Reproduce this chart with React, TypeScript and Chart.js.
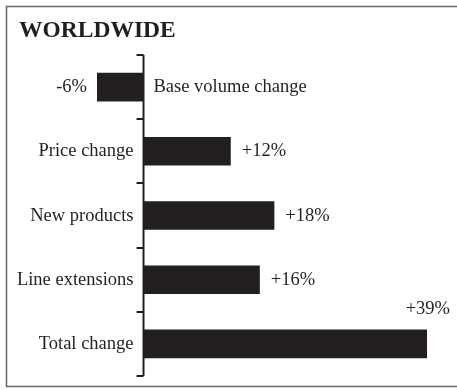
import React, { useEffect, useRef } from "react";
import { Chart, registerables } from "chart.js";

Chart.register(...registerables);

const title = "WORLDWIDE";
const categories = [
  "Base volume change",
  "Price change",
  "New products",
  "Line extensions",
  "Total change",
];
const values = [-6.4, 12, 18, 16, 39];
const valueLabels = ["-6%", "+12%", "+18%", "+16%", "+39%"];

const INK = "#231f20";
const FONT = "'Liberation Serif', 'Times New Roman', serif";

const decorPlugin = {
  id: "decor",
  afterDraw(chart: any) {
    const ctx = chart.ctx as CanvasRenderingContext2D;
    const xs = chart.scales.x;
    const ys = chart.scales.y;
    const meta = chart.getDatasetMeta(0);
    const W = chart.width;
    const H = chart.height;
    ctx.save();

    // frame
    ctx.strokeStyle = "#6e6e6e";
    ctx.lineWidth = 1.6;
    ctx.strokeRect(6.5, 6.5, W + 10, H - 10);

    // title
    ctx.fillStyle = INK;
    ctx.font = `bold 23.5px ${FONT}`;
    ctx.textAlign = "left";
    ctx.textBaseline = "alphabetic";
    ctx.fillText(title, 19, 37);

    // axis
    const x0 = xs.getPixelForValue(0);
    ctx.strokeStyle = INK;
    ctx.lineWidth = 2;
    ctx.beginPath();
    ctx.moveTo(x0, ys.top);
    ctx.lineTo(x0, ys.bottom);
    ctx.stroke();
    const n = categories.length;
    const band = (ys.bottom - ys.top) / n;
    ctx.beginPath();
    for (let i = 0; i <= n; i++) {
      const y = Math.round(ys.top + band * i);
      ctx.moveTo(x0 - 7, y);
      ctx.lineTo(x0, y);
    }
    ctx.stroke();

    // labels
    ctx.font = `18.5px ${FONT}`;
    ctx.fillStyle = INK;
    for (let i = 0; i < n; i++) {
      const bar = meta.data[i];
      const cy = ys.getPixelForValue(i);
      const base = cy + 5;
      const v = values[i];
      const label = valueLabels[i];
      if (v < 0) {
        ctx.textAlign = "left";
        ctx.fillText(categories[i], x0 + 10, base);
        ctx.textAlign = "right";
        ctx.fillText(label, bar.x - 10, base);
      } else {
        ctx.textAlign = "right";
        ctx.fillText(categories[i], x0 - 10, base);
        const w = ctx.measureText(label).width;
        if (bar.x + 11 + w > W - 6) {
          ctx.textAlign = "right";
          ctx.fillText(label, W - 7, bar.y - bar.height / 2 - 16);
        } else {
          ctx.textAlign = "left";
          ctx.fillText(label, bar.x + 11, base);
        }
      }
    }
    ctx.restore();
  },
};

export default function App() {
  const ref = useRef<HTMLCanvasElement | null>(null);
  useEffect(() => {
    if (!ref.current) return;
    const chart = new Chart(ref.current, {
      type: "bar",
      data: {
        labels: categories,
        datasets: [
          {
            data: values,
            backgroundColor: INK,
            borderWidth: 0,
            barPercentage: 0.445,
            categoryPercentage: 1,
          },
        ],
      },
      options: {
        indexAxis: "y",
        animation: false,
        responsive: false,
        layout: { padding: { left: 5.4, right: 22.7, top: 55, bottom: 14 } },
        scales: {
          x: { type: "linear", min: -19, max: 40, display: false },
          y: { type: "category", offset: true, display: false },
        },
        plugins: {
          legend: { display: false },
          tooltip: { enabled: false },
          title: { display: false },
        },
      },
      plugins: [decorPlugin],
    } as any);
    return () => chart.destroy();
  }, []);
  return (
    <div style={{ position: "fixed", left: 0, top: 0, width: 457, height: 390, background: "#fff" }}>
      <canvas ref={ref} width={457} height={390} style={{ width: 457, height: 390, display: "block" }} />
    </div>
  );
}
